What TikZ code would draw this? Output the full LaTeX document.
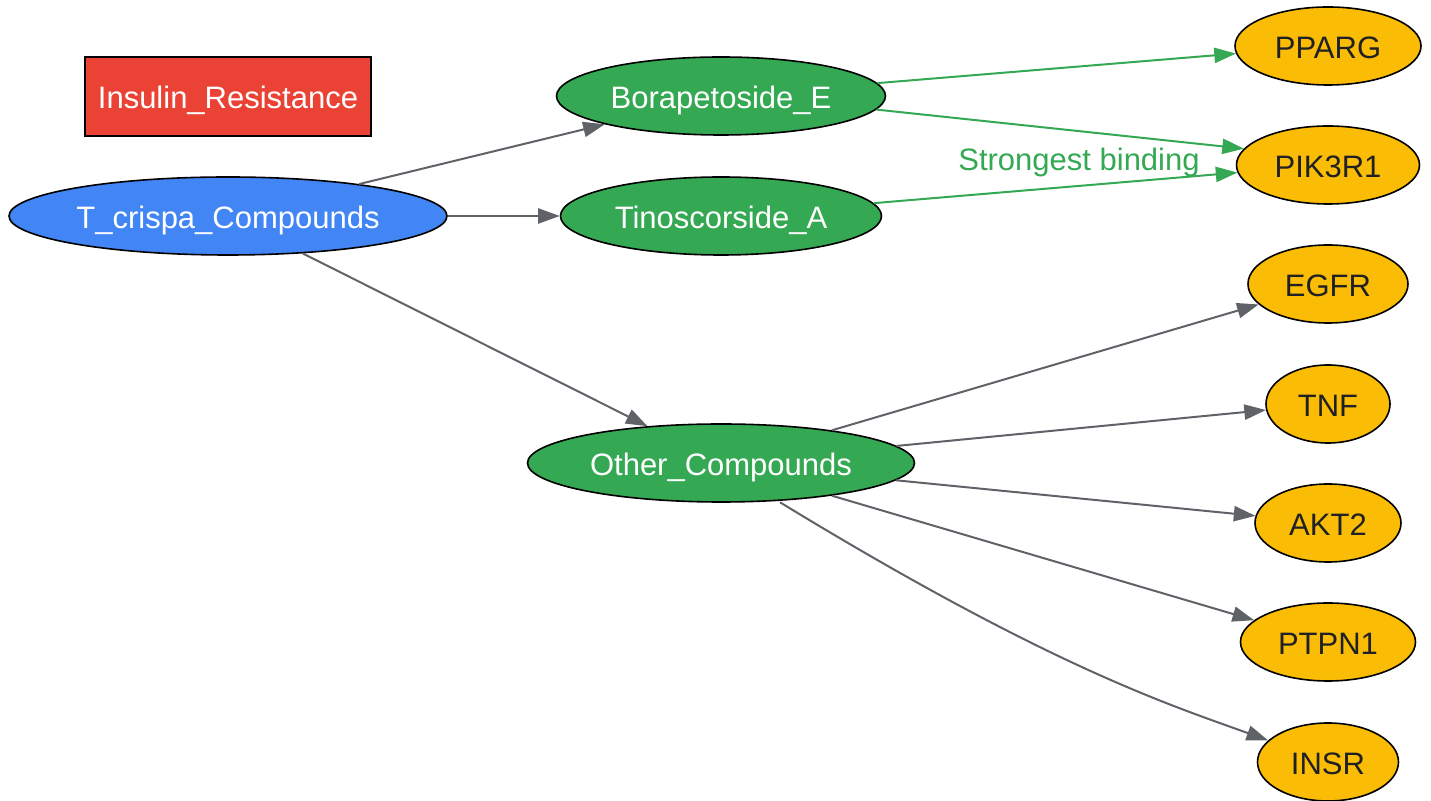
\documentclass[tikz,border=0pt]{standalone}
\usepackage{fontspec}
\setmainfont{Liberation Sans}
\usetikzlibrary{shapes.geometric,arrows.meta}
\definecolor{gblue}{HTML}{4285F4}
\definecolor{ggreen}{HTML}{34A853}
\definecolor{gyellow}{HTML}{FBBC05}
\definecolor{gred}{HTML}{EA4335}
\definecolor{ggray}{HTML}{5F6368}
\definecolor{gdark}{HTML}{202124}
\begin{document}
\begin{tikzpicture}[x=0.5pt,y=-0.5pt,
  every node/.style={font=\fontsize{15.5pt}{18pt}\selectfont,text height=12.2pt,text depth=0pt},
  base/.style={draw=black,line width=0.8pt,inner sep=0pt},
  ell/.style={base,ellipse,minimum height=39pt},
  compound/.style={ell,fill=ggreen,text=white},
  target/.style={ell,fill=gyellow,text=gdark},
  grayedge/.style={draw=ggray,line width=1pt,-{Triangle[length=10.8pt,width=7.6pt]}},
  greenedge/.style={draw=ggreen,line width=1pt,-{Triangle[length=10.8pt,width=7.6pt]}}
]
\useasboundingbox (0,0) rectangle (1431,801);
\node[base,rectangle,fill=gred,text=white,minimum width=143pt,minimum height=39.5pt] (ir) at (228,96.5) {Insulin\_Resistance};
\node[ell,fill=gblue,text=white,minimum width=219pt] (tc) at (228,216) {T\_crispa\_Compounds};
\node[compound,minimum width=164.5pt] (be) at (721,96) {Borapetoside\_E};
\node[compound,minimum width=160.5pt] (ta) at (721,216) {Tinoscorside\_A};
\node[compound,minimum width=193.5pt] (oc) at (721,463) {Other\_Compounds};
\node[target,minimum width=93pt] (pparg) at (1328,46) {PPARG};
\node[target,minimum width=91.5pt] (pik) at (1328,165) {PIK3R1};
\node[target,minimum width=80pt] (egfr) at (1328,284) {EGFR};
\node[target,minimum width=62pt] (tnf) at (1328,404) {TNF};
\node[target,minimum width=73pt] (akt) at (1328,523) {AKT2};
\node[target,minimum width=87.5pt] (ptpn) at (1328,642) {PTPN1};
\node[target,minimum width=70.5pt] (insr) at (1328,762) {INSR};
\draw[grayedge] (tc) -- (be);
\draw[grayedge] (tc) -- (ta);
\draw[grayedge] (tc) -- (oc);
\draw[greenedge] (be) -- (pparg);
\draw[greenedge] (be.-5) -- (pik.169);
\draw[greenedge] (ta) -- (pik);
\node[text=ggreen] (lbl) at (1079,158.5) {Strongest binding};
\draw[grayedge] (oc) -- (egfr);
\draw[grayedge] (oc) -- (tnf);
\draw[grayedge] (oc) -- (akt);
\draw[grayedge] (oc) -- (ptpn);
\draw[grayedge] (oc.south) ++(59,-0.5) coordinate (s) (s) .. controls (1050,667) and (1170,705) .. (insr);
\end{tikzpicture}
\end{document}
